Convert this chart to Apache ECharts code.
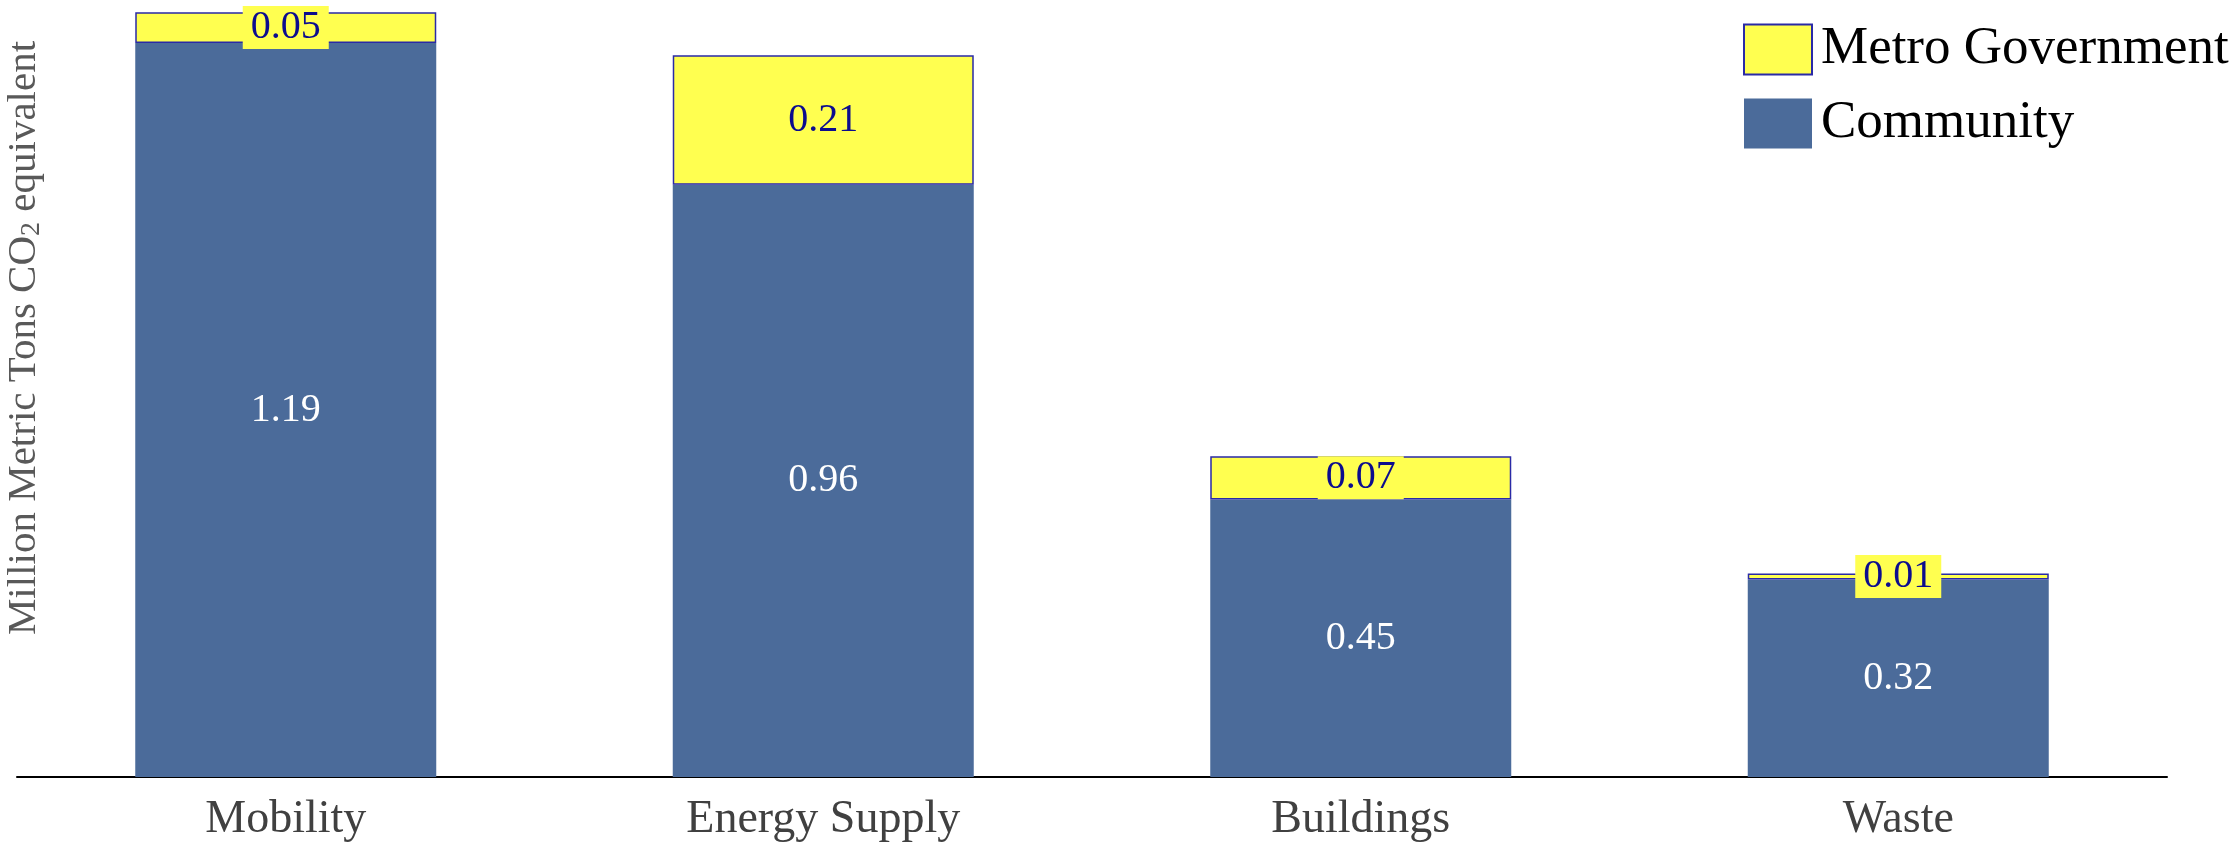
<!DOCTYPE html>
<html>
<head>
<meta charset="utf-8">
<title>Emissions by sector</title>
<script src="https://cdn.jsdelivr.net/npm/echarts@6/dist/echarts.min.js"></script>
<style>
  html, body { margin: 0; padding: 0; background: #ffffff; }
  #chart { width: 2234px; height: 843px; }
</style>
</head>
<body>
<div id="chart"></div>
<script>
// Sectors along the x axis
const categories = ['Mobility', 'Energy Supply', 'Buildings', 'Waste'];
// Million metric tons CO2e per sector
const communityValues = [1.19, 0.96, 0.45, 0.32];
const metroGovValues = [0.05, 0.21, 0.07, 0.01];
const seriesNames = ['Metro Government', 'Community'];

const SERIF = '"Liberation Serif", "DejaVu Serif", serif';
const YELLOW = '#ffff50';
const BLUE = '#4b6b9a';
const NAVY = '#0c0c8e';

const chart = echarts.init(document.getElementById('chart'), null, { renderer: 'canvas' });

chart.setOption({
  animation: false,
  backgroundColor: '#ffffff',
  grid: { left: 17, right: 67, top: 6, bottom: 64, containLabel: false },
  legend: {
    data: seriesNames,
    orient: 'vertical',
    left: 1738,
    top: 18,
    itemWidth: 68,
    itemHeight: 50,
    itemGap: 21,
    icon: 'rect',
    textStyle: { fontFamily: SERIF, fontSize: 53, color: '#000000', padding: [0, 0, 0, 4] }
  },
  xAxis: {
    type: 'category',
    data: categories,
    axisLine: { show: true, lineStyle: { color: '#000000', width: 2 } },
    axisTick: { show: false },
    axisLabel: { fontFamily: SERIF, fontSize: 46, color: '#404040', margin: 20 }
  },
  yAxis: {
    type: 'value',
    min: 0,
    max: 1.25,
    show: false,
    splitLine: { show: false }
  },
  graphic: [{
    type: 'text',
    x: 24,
    y: 338,
    rotation: Math.PI / 2,
    style: {
      text: '{a|Million Metric Tons CO}{b|2}{a| equivalent}',
      align: 'center',
      verticalAlign: 'middle',
      fill: '#595959',
      rich: {
        a: { fontFamily: SERIF, fontSize: 41, fill: '#595959' },
        b: { fontFamily: SERIF, fontSize: 28, fill: '#595959', padding: [16, 0, 0, 0] }
      }
    }
  }],
  series: [
    {
      name: 'Community',
      type: 'bar',
      stack: 'total',
      data: communityValues,
      barCategoryGap: '44%',
      itemStyle: { color: BLUE },
      label: {
        show: true,
        position: 'inside',
        fontFamily: SERIF,
        fontSize: 40,
        color: '#ffffff'
      }
    },
    {
      name: 'Metro Government',
      type: 'bar',
      stack: 'total',
      data: metroGovValues,
      itemStyle: { color: YELLOW, borderColor: '#2a2aa6', borderWidth: 1.5 },
      label: {
        show: true,
        position: 'inside',
        fontFamily: SERIF,
        fontSize: 40,
        color: NAVY,
        backgroundColor: YELLOW,
        padding: [1, 8, 0, 8],
        lineHeight: 42
      }
    }
  ]
});
</script>
</body>
</html>
